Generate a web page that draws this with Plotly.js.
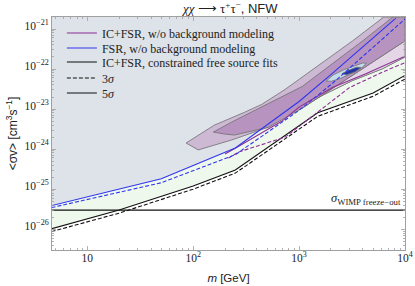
<!DOCTYPE html>
<html><head><meta charset="utf-8">
<script src="https://cdn.plot.ly/plotly-3.0.1.min.js"></script>
<style>html,body{margin:0;padding:0;background:#fff}#c{width:415px;height:286px}</style>
</head><body><div id="c"></div>
<script>
// ---------- data (masses in GeV, <sigma v> as log10 exponents) ----------
const xRangeLog = [0.667, 4.0];
const yRangeLog = [-26.52, -20.70];

const blackSolidM   = [4.6, 20, 100, 250, 1500, 5000, 10000];
const blackSolidLog = [-25.99, -25.52, -24.92, -24.52, -23.09, -22.60, -22.16];
const blackDashM    = [4.6, 20, 100, 250, 1500, 5000, 10000];
const blackDashLog  = [-26.06, -25.60, -25.00, -24.60, -23.18, -22.68, -22.25];

const blueSolidM    = [4.6, 50, 250, 1000, 2060, 8200];
const blueSolidLog  = [-25.41, -24.74, -23.97, -22.81, -22.11, -20.73];
const blueDashM     = [4.6, 50, 250, 1000, 2060, 10000];
const blueDashLog   = [-25.46, -24.84, -24.14, -23.03, -22.36, -20.75];

const purpSolidM    = [200, 257, 690, 1000, 2060, 4270, 10000];
const purpSolidLog  = [-24.12, -23.96, -23.30, -22.95, -22.46, -22.12, -21.68];
const purpDashM     = [215, 270, 740, 2060, 3000, 6600, 10000];
const purpDashLog   = [-24.22, -24.07, -23.70, -22.78, -22.46, -22.04, -21.84];

const freezeM   = [4.6, 10000];
const freezeVal = 3e-26;

// contour regions (log10 m, log10 sigma v)
const lightLogM  = [1.933, 2.076, 2.200, 2.486, 2.648, 2.867, 3.190, 3.505, 3.80, 4.0, 4.0, 3.790, 3.505, 3.219, 2.933, 2.714, 2.362, 2.048, 1.933];
const lightLogSV = [-23.847, -23.599, -23.401, -23.079, -22.881, -22.510, -21.891, -21.297, -20.70, -20.70, -21.70, -21.99, -22.287, -22.658, -23.079, -23.450, -23.772, -24.020, -23.847];
const pinkLogM   = [3.029, 3.505, 4.0, 4.0, 3.790, 3.505, 3.219, 2.933, 3.029];
const pinkLogSV  = [-22.98, -22.163, -21.297, -21.70, -21.99, -22.287, -22.658, -23.079, -22.98];
const darkLogM   = [2.190, 2.362, 2.714, 3.029, 3.314, 3.600, 3.886, 4.0, 4.0, 3.505, 3.029, 2.714, 2.390, 2.295, 2.190];
const darkLogSV  = [-23.574, -23.327, -22.856, -22.436, -21.866, -21.297, -20.70, -20.70, -21.297, -22.163, -22.98, -23.450, -23.649, -23.624, -23.574];
const ellLogM    = [3.257, 3.320, 3.420, 3.520, 3.600, 3.635, 3.590, 3.490, 3.390, 3.305, 3.257];
const ellLogSV   = [-22.300, -22.150, -22.020, -21.920, -21.850, -21.855, -21.975, -22.110, -22.235, -22.305, -22.300];
const coreLogM   = [3.405, 3.467, 3.543, 3.585, 3.530, 3.448, 3.405];
const coreLogSV  = [-22.120, -22.030, -21.955, -21.960, -22.070, -22.145, -22.120];

const xTickVals = [10, 100, 1000, 10000];
const xTickText = ['10', '10<sup>2</sup>', '10<sup>3</sup>', '10<sup>4</sup>'];
const yTickExp  = [-26, -25, -24, -23, -22, -21];

const legendNames = ['IC+FSR, w/o background modeling', 'FSR, w/o background modeling',
  'IC+FSR, constrained free source fits', '3<i>σ</i>', '5<i>σ</i>'];

// ---------- helpers ----------
const p10 = v => Math.pow(10, v);
const pw = a => a.map(p10);
const SERIF = 'Liberation Serif, Times New Roman, serif';
const SANS = 'Liberation Sans, Arial, sans-serif';
const PURPLE = '#8c2f94', BLUE = '#2f35ee', GRAYBG = '#dde3e8', GREEN = '#eff8ed';
const OUT = '#6f6f70';

const xMin = p10(xRangeLog[0]), xMax = p10(xRangeLog[1]);
const yTop = p10(yRangeLog[1]);

const traces = [];
traces.push({x: blueSolidM.concat([xMax, xMin]), y: pw(blueSolidLog).concat([yTop, yTop]),
  mode:'lines', fill:'toself', fillcolor:GRAYBG, line:{width:0}, hoverinfo:'skip', showlegend:false});
traces.push({x: blueSolidM.concat([xMax, xMax], blackSolidM.slice().reverse()),
  y: pw(blueSolidLog).concat([yTop, p10(blackSolidLog[blackSolidLog.length-1])], pw(blackSolidLog).reverse()),
  mode:'lines', fill:'toself', fillcolor:GREEN, line:{width:0}, hoverinfo:'skip', showlegend:false});
function region(lm, ls, col){
  traces.push({x: pw(lm), y: pw(ls), mode:'lines', fill:'toself', fillcolor:col,
    line:{color:OUT, width:0.8}, hoverinfo:'skip', showlegend:false});
}
region(lightLogM, lightLogSV, '#cdb9d4');
region(pinkLogM, pinkLogSV, '#e4d6e7');
region(darkLogM, darkLogSV, '#b694bf');
region(ellLogM, ellLogSV, '#c4dcea');
region(coreLogM, coreLogSV, '#2233a8');

traces.push({x: freezeM, y: freezeM.map(()=>freezeVal), mode:'lines', line:{color:'#111', width:1.2}, hoverinfo:'skip', showlegend:false});
traces.push({x: blackDashM, y: pw(blackDashLog), mode:'lines', name:legendNames[3], legend:'legend4',
  line:{color:'#111', width:1.1, dash:'4px,2px'}});
traces.push({x: blackSolidM, y: pw(blackSolidLog), mode:'lines', name:legendNames[2], legend:'legend3',
  line:{color:'#111', width:1.1}});
traces.push({x: purpDashM, y: pw(purpDashLog), mode:'lines', showlegend:false,
  line:{color:PURPLE, width:1.1, dash:'4px,2px'}});
traces.push({x: purpSolidM, y: pw(purpSolidLog), mode:'lines', name:legendNames[0], legend:'legend',
  line:{color:PURPLE, width:1.1}});
traces.push({x: blueDashM, y: pw(blueDashLog), mode:'lines', showlegend:false,
  line:{color:BLUE, width:1.1, dash:'4px,2px'}});
traces.push({x: blueSolidM, y: pw(blueSolidLog), mode:'lines', name:legendNames[1], legend:'legend2',
  line:{color:BLUE, width:1.1}});
traces.push({x: [null], y: [null], mode:'lines', name:legendNames[4], legend:'legend5', line:{color:'#111', width:1.1}});

const xMinor = [], yMinor = [];
for (let d = 0; d <= 3; d++) for (let k = 2; k <= 9; k++) xMinor.push(k * p10(d));
for (let d = -27; d <= -21; d++) for (let k = 2; k <= 9; k++) yMinor.push(k * p10(d));

const axisCommon = {
  type:'log', showgrid:false, zeroline:false, showline:true, linecolor:'#a0a0a0', linewidth:1,
  mirror:'ticks', ticks:'inside', ticklen:4, tickwidth:0.8, tickcolor:'#a0a0a0',
  tickfont:{family:SERIF, size:11.5, color:'#222'},
};
function leg(y){
  return {x:0.028, y:y, xanchor:'left', yanchor:'top', bgcolor:'rgba(0,0,0,0)', borderwidth:0,
    font:{family:SERIF, size:12, color:'#222'}, itemwidth:30};
}
const layout = {
  width:415, height:286,
  margin:{l:52, r:10, t:17, b:36},
  paper_bgcolor:'#fff', plot_bgcolor:'#fff',
  title:{text:'<i>χχ</i> ⟶ τ<sup>+</sup>τ<sup>−</sup><span style="font-family:Liberation Sans">, NFW</span>',
    font:{family:SERIF, size:13, color:'#222'}, x:0.555, xref:'container', xanchor:'center', y:0.970, yref:'container', yanchor:'middle'},
  xaxis: Object.assign({}, axisCommon, {
    range:xRangeLog, tickmode:'array', tickvals:xTickVals, ticktext:xTickText, ticklabelstandoff:-3,
    minor:{tickmode:'array', tickvals:xMinor, ticks:'inside', ticklen:2, tickcolor:'#a0a0a0', tickwidth:0.8},
    title:{text:'<i>m</i> [GeV]', font:{family:SANS, size:11.5, color:'#222'}, standoff:11}
  }),
  yaxis: Object.assign({}, axisCommon, {
    range:yRangeLog, tickmode:'array', tickvals:yTickExp.map(p10), ticklabelshift:-3,
    ticktext:yTickExp.map(e => '10<sup>' + String(e).replace('-', '−') + '</sup>'),
    minor:{tickmode:'array', tickvals:yMinor, ticks:'inside', ticklen:2, tickcolor:'#a0a0a0', tickwidth:0.8},
    title:{text:'&lt;σv&gt; [cm<sup>3</sup>s<sup>−1</sup>]', font:{family:SANS, size:12, color:'#222'}, standoff:4}
  }),
  legend: leg(0.9936), legend2: leg(0.9292), legend3: leg(0.8691), legend4: leg(0.8004), legend5: leg(0.7361),
  annotations:[{x:0.995, xref:'paper', y:Math.log10(freezeVal), yref:'y', xanchor:'right', yanchor:'bottom', yshift:1,
    text:'<i>σ</i><sub>WIMP freeze−out</sub>', showarrow:false, font:{family:SERIF, size:12.5, color:'#222'}}]
};
Plotly.newPlot('c', traces, layout, {displayModeBar:false, staticPlot:true});
</script></body></html>
